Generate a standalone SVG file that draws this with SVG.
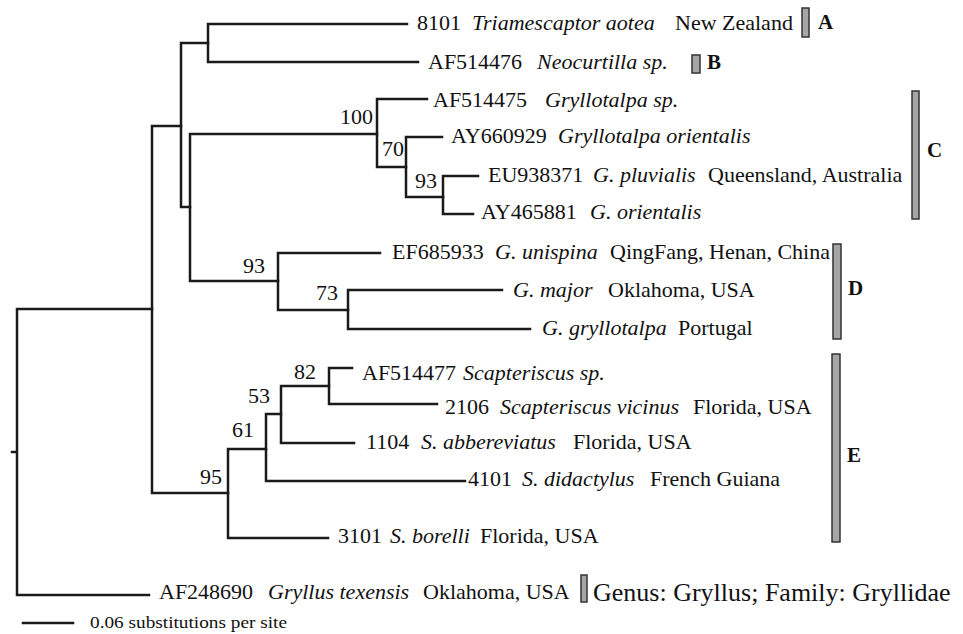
<svg xmlns="http://www.w3.org/2000/svg" width="963" height="634" viewBox="0 0 963 634">
<style>
.br{fill:none;stroke:#1a1a1a;stroke-width:2.5;stroke-linecap:square}
.t{font-size:22px;fill:#111}
.i{font-style:italic}
.cl{font-weight:bold;font-size:21px;fill:#111}
.bar{fill:#a6a6a6;stroke:#333;stroke-width:1.5}
</style>
<rect width="963" height="634" fill="#fff"/>
<g id="connectors">
<path class="br" d="M12,452H17M17,309V595M17,309H152M17,595H149"/>
<path class="br" d="M152,126V493M152,126H181M152,493H228"/>
<path class="br" d="M181,43V207M181,43H208M181,207H190"/>
<path class="br" d="M208,24V62M208,24H407M208,62H418"/>
<path class="br" d="M190,134V281M190,134H377M190,281H278"/>
<path class="br" d="M377,99V167M377,99H427M377,167H406"/>
<path class="br" d="M406,137V197M406,137H442M406,197H443"/>
<path class="br" d="M443,176V214M443,176H478M443,214H473"/>
<path class="br" d="M278,253V310M278,253H380M278,310H348"/>
<path class="br" d="M348,290V329M348,290H502M348,329H530"/>
<path class="br" d="M228,449V538M228,538H328M228,449H266"/>
<path class="br" d="M266,414V481M266,481H465M266,414H281"/>
<path class="br" d="M281,386V443M281,443H354M281,386H329"/>
<path class="br" d="M329,368V404M329,368H352M329,404H437"/>
</g>
<g id="support">
<text class="t" font-family="Liberation Serif" x="373" y="124" text-anchor="end">100</text>
<text class="t" font-family="Liberation Serif" x="382" y="156">70</text>
<text class="t" font-family="Liberation Serif" x="415" y="188">93</text>
<text class="t" font-family="Liberation Serif" x="243" y="273">93</text>
<text class="t" font-family="Liberation Serif" x="316" y="300">73</text>
<text class="t" font-family="Liberation Serif" x="294" y="379">82</text>
<text class="t" font-family="Liberation Serif" x="248" y="403">53</text>
<text class="t" font-family="Liberation Serif" x="232" y="437">61</text>
<text class="t" font-family="Liberation Serif" x="200" y="484">95</text>
</g>
<g id="leaf-8101"><text class="t" font-family="Liberation Serif" y="30"><tspan x="417">8101</tspan><tspan x="472" class="i">Triamescaptor aotea</tspan><tspan x="675">New Zealand</tspan></text></g>
<g id="leaf-AF514476"><text class="t" font-family="Liberation Serif" y="69"><tspan x="428">AF514476</tspan><tspan x="537" class="i">Neocurtilla sp.</tspan></text></g>
<g id="leaf-AF514475"><text class="t" font-family="Liberation Serif" y="107"><tspan x="433">AF514475</tspan><tspan x="545" class="i">Gryllotalpa sp.</tspan></text></g>
<g id="leaf-AY660929"><text class="t" font-family="Liberation Serif" y="143"><tspan x="451">AY660929</tspan><tspan x="558" class="i">Gryllotalpa orientalis</tspan></text></g>
<g id="leaf-EU938371"><text class="t" font-family="Liberation Serif" y="182"><tspan x="488">EU938371</tspan><tspan x="593" class="i">G. pluvialis</tspan><tspan x="708">Queensland, Australia</tspan></text></g>
<g id="leaf-AY465881"><text class="t" font-family="Liberation Serif" y="219"><tspan x="481">AY465881</tspan><tspan x="590" class="i">G. orientalis</tspan></text></g>
<g id="leaf-EF685933"><text class="t" font-family="Liberation Serif" y="259"><tspan x="392">EF685933</tspan><tspan x="495" class="i">G. unispina</tspan><tspan x="610">QingFang, Henan, China</tspan></text></g>
<g id="leaf-Gmajor"><text class="t" font-family="Liberation Serif" y="297"><tspan x="513" class="i">G. major</tspan><tspan x="608">Oklahoma, USA</tspan></text></g>
<g id="leaf-Ggryllotalpa"><text class="t" font-family="Liberation Serif" y="335"><tspan x="542" class="i">G. gryllotalpa</tspan><tspan x="678">Portugal</tspan></text></g>
<g id="leaf-AF514477"><text class="t" font-family="Liberation Serif" y="380"><tspan x="362">AF514477</tspan><tspan x="463" class="i">Scapteriscus sp.</tspan></text></g>
<g id="leaf-2106"><text class="t" font-family="Liberation Serif" y="414"><tspan x="445">2106</tspan><tspan x="500" class="i">Scapteriscus vicinus</tspan><tspan x="693">Florida, USA</tspan></text></g>
<g id="leaf-1104"><text class="t" font-family="Liberation Serif" y="449"><tspan x="366">1104</tspan><tspan x="421" class="i">S. abbereviatus</tspan><tspan x="573">Florida, USA</tspan></text></g>
<g id="leaf-4101"><text class="t" font-family="Liberation Serif" y="486"><tspan x="468">4101</tspan><tspan x="522" class="i">S. didactylus</tspan><tspan x="650">French Guiana</tspan></text></g>
<g id="leaf-3101"><text class="t" font-family="Liberation Serif" y="543"><tspan x="338">3101</tspan><tspan x="390" class="i">S. borelli</tspan><tspan x="480">Florida, USA</tspan></text></g>
<g id="leaf-AF248690"><text class="t" font-family="Liberation Serif" y="599"><tspan x="159">AF248690</tspan><tspan x="268" class="i">Gryllus texensis</tspan><tspan x="423">Oklahoma, USA</tspan></text></g>
<g id="clade-A"><rect class="bar" x="802" y="8" width="7" height="29"/><text class="cl" font-family="Liberation Serif" x="818" y="29">A</text></g>
<g id="clade-B"><rect class="bar" x="692" y="55" width="8" height="18"/><text class="cl" font-family="Liberation Serif" x="707" y="69">B</text></g>
<g id="clade-C"><rect class="bar" x="912" y="91" width="7" height="128"/><text class="cl" font-family="Liberation Serif" x="927" y="157">C</text></g>
<g id="clade-D"><rect class="bar" x="833" y="244" width="8" height="95"/><text class="cl" font-family="Liberation Serif" x="848" y="295">D</text></g>
<g id="clade-E"><rect class="bar" x="832" y="354" width="8" height="188"/><text class="cl" font-family="Liberation Serif" x="847" y="462">E</text></g>
<g id="outgroup"><rect class="bar" x="581" y="575" width="6" height="27"/><text font-family="Liberation Serif" x="593" y="601" font-size="26" fill="#111">Genus: Gryllus; Family: Gryllidae</text></g>
<g id="scale"><path class="br" d="M23,623H73"/><text font-family="Liberation Serif" x="90" y="628" font-size="16" fill="#111" textLength="197" lengthAdjust="spacingAndGlyphs">0.06 substitutions per site</text></g>
</svg>
